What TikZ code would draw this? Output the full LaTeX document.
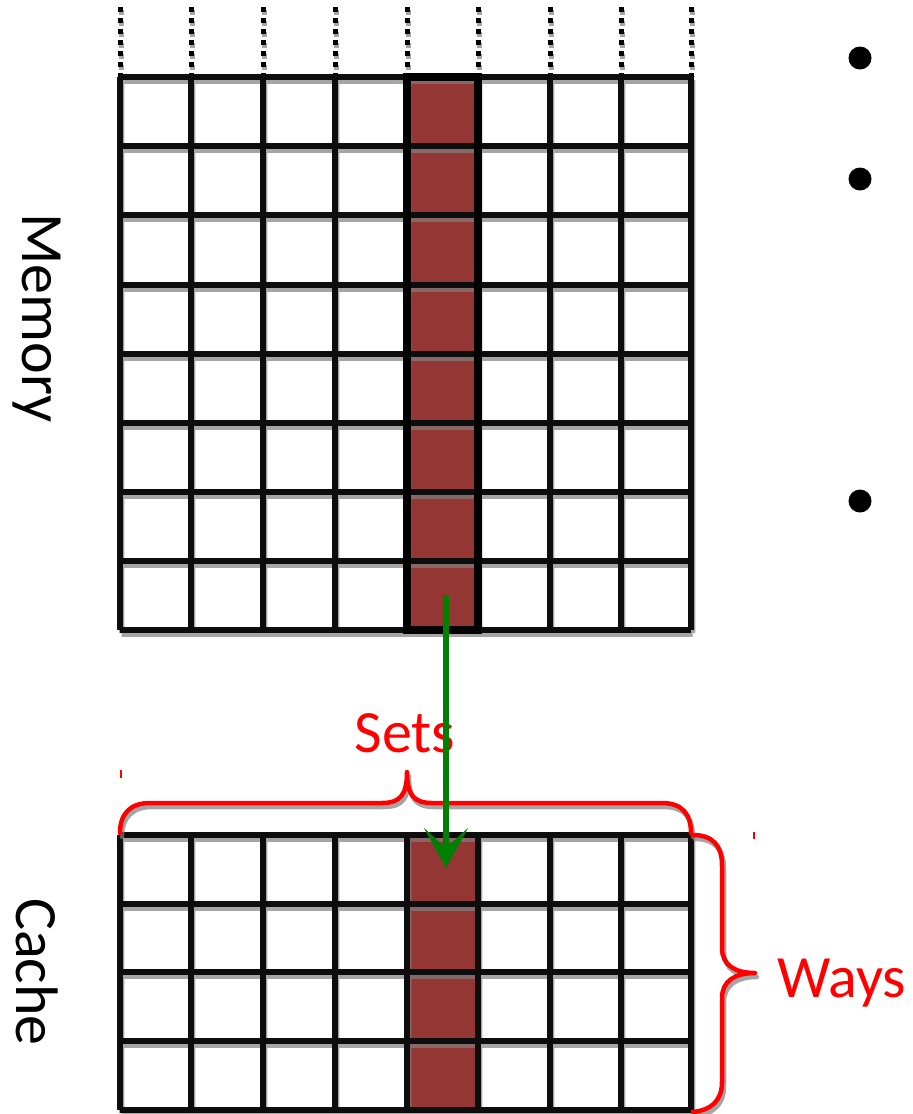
\documentclass[tikz,border=0pt]{standalone}
\usepackage{fontspec}
\setmainfont{Carlito}
\usetikzlibrary{arrows.meta}
\definecolor{cellred}{HTML}{943634}
\definecolor{arrowgreen}{HTML}{008000}
\definecolor{shadowgray}{HTML}{808080}
\begin{document}
\begin{tikzpicture}[x=1pt,y=-1pt,
  gridline/.style={line width=5.5pt, black!95, line cap=square},
  shadowline/.style={line width=5.5pt, shadowgray, opacity=0.7, line cap=square},
  hotborder/.style={line width=8pt, black, line join=miter},
  bracepath/.style={line width=4.5pt, red, line cap=round, line join=round},
  braceshadow/.style={line width=4.5pt, shadowgray, opacity=0.7, line cap=round, line join=round},
  lbl/.style={font=\fontsize{60}{72}\selectfont, inner sep=0pt},
  dotline/.style={line width=5pt, dash pattern=on 5pt off 6pt},
  bullet/.style={circle, fill=black, minimum size=23pt, inner sep=0pt},
]
\useasboundingbox (0,0) rectangle (913,1114);
\fill[white] (0,0) rectangle (913,1114);

% ---- dotted continuation lines above memory
\foreach \x in {120,191,263,335,407,478,550,621,691} {
  \draw[dotline, shadowgray, opacity=0.7] (\x+1,10) -- (\x+1,77);
  \draw[dotline, black] (\x,7) -- (\x,77);
}

% ---- fills
\fill[cellred] (407,77) rectangle (478,630);
\fill[cellred] (407,835) rectangle (477,1110);

% ---- shadows of grids
\begin{scope}[transparency group, opacity=0.7]
\foreach \x in {120,191,263,335,407,478,550,621,691} {
  \draw[shadowline, opacity=1] (\x+1.5,80) -- (\x+1.5,633);
  \draw[shadowline, opacity=1] (\x+1.5,838) -- (\x+1.5,1113);
}
\foreach \y in {77,146,215,285,354,423,492,561,630} {
  \draw[shadowline, opacity=1] (121.5,\y+4) -- (692.5,\y+4);
}
\foreach \y in {835,904,972,1041,1110} {
  \draw[shadowline, opacity=1] (121.5,\y+4) -- (692.5,\y+4);
}
\end{scope}

% ---- memory grid
\foreach \x in {120,191,263,335,407,478,550,621,691} {
  \draw[gridline] (\x,77) -- (\x,630);
}
\foreach \y in {77,146,215,285,354,423,492,561,630} {
  \draw[gridline] (120,\y) -- (691,\y);
}
\draw[hotborder] (407,77) rectangle (478,630);

% ---- cache grid
\foreach \x in {120,191,263,335,407,478,550,621,691} {
  \draw[gridline] (\x,835) -- (\x,1110);
}
\foreach \y in {835,904,972,1041,1110} {
  \draw[gridline] (120,\y) -- (691,\y);
}

% ---- braces
\draw[braceshadow, shift={(2,4)}] (120,833) .. controls (120,814) and (130,803) .. (150,803)
  -- (382,803) .. controls (400,803) and (407,795) .. (407,772)
  .. controls (407,795) and (414,803) .. (432,803) -- (662,803)
  .. controls (682,803) and (691,814) .. (691,833);
\draw[bracepath] (120,833) .. controls (120,814) and (130,803) .. (150,803)
  -- (382,803) .. controls (400,803) and (407,795) .. (407,772)
  .. controls (407,795) and (414,803) .. (432,803) -- (662,803)
  .. controls (682,803) and (691,814) .. (691,833);

\draw[braceshadow, shift={(2,4)}] (693,835) .. controls (712,835) and (722,845) .. (722,865)
  -- (722,948) .. controls (722,965) and (735,973) .. (755,973)
  .. controls (735,973) and (722,981) .. (722,998) -- (722,1082)
  .. controls (722,1100) and (712,1110) .. (693,1112);
\draw[bracepath] (693,835) .. controls (712,835) and (722,845) .. (722,865)
  -- (722,948) .. controls (722,965) and (735,973) .. (755,973)
  .. controls (735,973) and (722,981) .. (722,998) -- (722,1082)
  .. controls (722,1100) and (712,1110) .. (693,1112);

% tiny red ticks
\draw[red, line width=1.5pt] (121,770) -- (121,778);
\draw[red, line width=1.5pt] (754,832) -- (754,839);

% ---- labels
\node[lbl, red, anchor=base] (sets) at (405,752) {Sets};
\node[lbl, red, anchor=base west] (ways) at (777,997) {Ways};
\node[lbl, rotate=-90] (memory) at (37,318) {Memory};
\node[lbl, rotate=-90] (cache) at (37,972) {Cache};

% ---- bullets
\node[bullet] (b1) at (860,58) {};
\node[bullet] (b2) at (860,179) {};
\node[bullet] (b3) at (860,501) {};

% ---- arrow
\coordinate (src) at (446,595);
\coordinate (dst) at (446,868);
\draw[arrowgreen, line width=6.5pt, -{Stealth[length=40pt, width=44pt, inset=20pt]}] (src) -- (dst);
\end{tikzpicture}
\end{document}
